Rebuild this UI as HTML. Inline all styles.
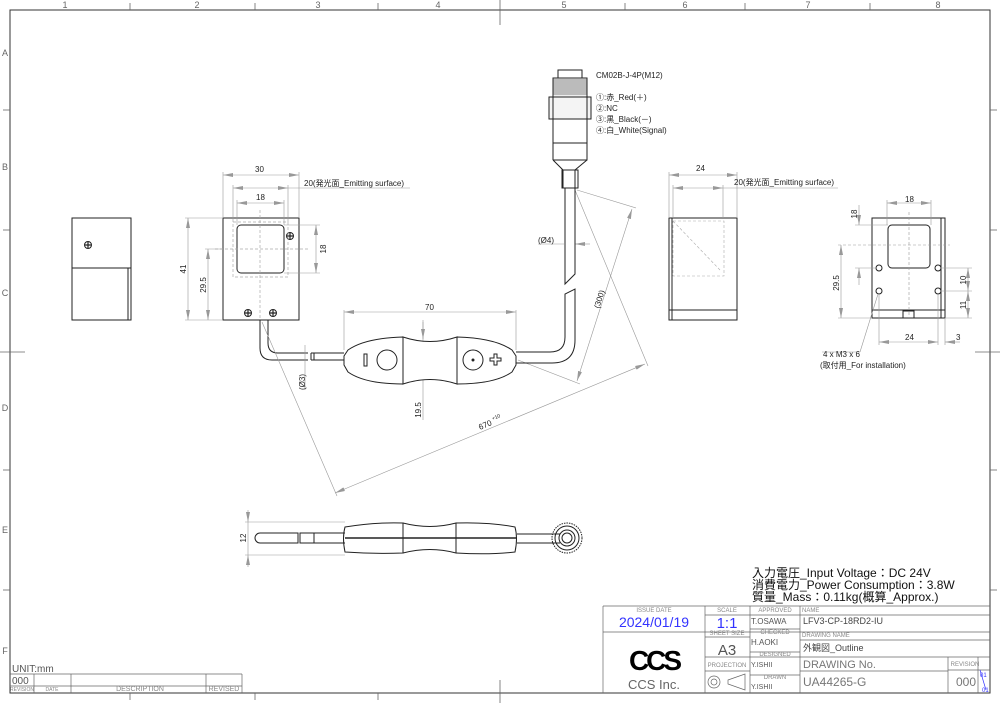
<!DOCTYPE html>
<html><head><meta charset="utf-8"><style>
html,body{margin:0;padding:0;background:#fff;}
svg{display:block;font-family:"Liberation Sans","Noto Sans CJK JP",sans-serif;}
</style></head><body>
<svg width="1000" height="703" viewBox="0 0 1000 703" xmlns="http://www.w3.org/2000/svg">
<defs>
<marker id="a" viewBox="0 0 10 4" refX="10" refY="2" markerWidth="10" markerHeight="4" orient="auto-start-reverse" markerUnits="userSpaceOnUse"><path d="M0,0L10,2L0,4z" fill="#999"/></marker>
<g id="scr"><circle r="3.5" fill="#fff" stroke="#222"/><path d="M-3,0H3M0,-3V3" stroke="#222" stroke-width="1.2"/></g>
</defs>
<g fill="none" stroke="#333" stroke-width="1">
<rect x="10" y="10" width="980" height="683"/>
</g>
<g stroke="#666" stroke-width="0.8">
<line x1="130" y1="3" x2="130" y2="10"/><line x1="255" y1="3" x2="255" y2="10"/><line x1="378" y1="3" x2="378" y2="10"/><line x1="500" y1="0" x2="500" y2="25"/><line x1="625" y1="3" x2="625" y2="10"/><line x1="745" y1="3" x2="745" y2="10"/><line x1="870" y1="3" x2="870" y2="10"/>
<line x1="130" y1="693" x2="130" y2="700"/><line x1="255" y1="693" x2="255" y2="700"/><line x1="378" y1="693" x2="378" y2="700"/><line x1="500" y1="680" x2="500" y2="703"/>
<line x1="3" y1="110" x2="10" y2="110"/><line x1="3" y1="230" x2="10" y2="230"/><line x1="0" y1="352" x2="25" y2="352"/><line x1="3" y1="470" x2="10" y2="470"/><line x1="3" y1="590" x2="10" y2="590"/>
<line x1="990" y1="110" x2="997" y2="110"/><line x1="990" y1="230" x2="997" y2="230"/><line x1="975" y1="352" x2="1000" y2="352"/><line x1="990" y1="470" x2="997" y2="470"/><line x1="990" y1="590" x2="997" y2="590"/>
</g>
<g font-size="9" fill="#666" text-anchor="middle">
<text x="65" y="8">1</text><text x="197" y="8">2</text><text x="318" y="8">3</text><text x="438" y="8">4</text><text x="564" y="8">5</text><text x="685" y="8">6</text><text x="808" y="8">7</text><text x="938" y="8">8</text>
<text x="5" y="56">A</text><text x="5" y="170">B</text><text x="5" y="296">C</text><text x="5" y="411">D</text><text x="5" y="533">E</text><text x="5" y="654">F</text>
</g>

<g fill="none" stroke="#222" stroke-width="1">
<rect x="72" y="218" width="59" height="102"/>
<line x1="72" y1="268" x2="131" y2="268"/>
<line x1="128" y1="268" x2="128" y2="320"/>
</g>
<use href="#scr" x="88" y="245"/>

<g fill="none" stroke="#222" stroke-width="1">
<rect x="223" y="218" width="76" height="102"/>
<rect x="237" y="225" width="47" height="48" rx="4"/>
<path d="M260,320 V348 Q260,360 272,360 H308 M268,320 V343 Q268,353 278,353 H308"/>
<path d="M311,353 H344 M311,360 H344 M311,353 V360 M314,353 V360"/>
</g>
<use href="#scr" x="290" y="236"/><use href="#scr" x="248" y="313"/><use href="#scr" x="273" y="313"/>
<g stroke="#aaa" stroke-width="0.7" fill="none" stroke-dasharray="3,2">
<rect x="233" y="222" width="55" height="55"/>
<line x1="260" y1="210" x2="260" y2="320"/><line x1="215" y1="249" x2="310" y2="249"/>
</g>
<g stroke="#999" stroke-width="0.6" fill="none">
<line x1="223" y1="172" x2="223" y2="218"/><line x1="299" y1="172" x2="299" y2="218"/>
<line x1="223" y1="175" x2="299" y2="175" marker-start="url(#a)" marker-end="url(#a)"/>
<line x1="233" y1="185" x2="233" y2="222"/><line x1="288" y1="185" x2="288" y2="222"/>
<line x1="233" y1="188" x2="288" y2="188" marker-start="url(#a)" marker-end="url(#a)"/>
<line x1="288" y1="188" x2="410" y2="188"/>
<line x1="237" y1="203" x2="284" y2="203" marker-start="url(#a)" marker-end="url(#a)"/>
<line x1="237" y1="200" x2="237" y2="225"/><line x1="284" y1="200" x2="284" y2="225"/>
<line x1="284" y1="225" x2="320" y2="225"/><line x1="284" y1="273" x2="320" y2="273"/>
<line x1="316" y1="225" x2="316" y2="273" marker-start="url(#a)" marker-end="url(#a)"/>
<line x1="185" y1="218" x2="223" y2="218"/><line x1="185" y1="320" x2="223" y2="320"/>
<line x1="188" y1="218" x2="188" y2="320" marker-start="url(#a)" marker-end="url(#a)"/>
<line x1="205" y1="249" x2="223" y2="249"/>
<line x1="208" y1="249" x2="208" y2="320" marker-start="url(#a)" marker-end="url(#a)"/>
<line x1="305" y1="345" x2="305" y2="390"/>
<line x1="344" y1="310" x2="344" y2="350"/><line x1="516" y1="310" x2="516" y2="350"/>
<line x1="344" y1="312" x2="516" y2="312" marker-start="url(#a)" marker-end="url(#a)"/>
<line x1="423" y1="320" x2="423" y2="420"/>
<line x1="423" y1="322" x2="423" y2="339" marker-end="url(#a)"/>
<line x1="262" y1="322" x2="337" y2="496"/>
<line x1="575" y1="190" x2="648" y2="366"/>
<line x1="335" y1="493" x2="645" y2="364" marker-start="url(#a)" marker-end="url(#a)"/>
<line x1="577" y1="190" x2="636" y2="208"/>
<line x1="518" y1="360" x2="580" y2="384"/>
<line x1="632" y1="209" x2="577" y2="381" marker-start="url(#a)" marker-end="url(#a)"/>
<line x1="538" y1="244" x2="564" y2="244"/><line x1="575" y1="244" x2="590" y2="244" marker-start="url(#a)"/>
</g>
<g font-size="8" fill="#222">
<text x="255" y="172">30</text><text x="304" y="186">20(発光面_Emitting surface)</text>
<text x="256" y="200">18</text>
<text transform="translate(326,249) rotate(-90)" text-anchor="middle">18</text>
<text transform="translate(186,269) rotate(-90)" text-anchor="middle">41</text>
<text transform="translate(206,285) rotate(-90)" text-anchor="middle">29.5</text>
<text x="425" y="310">70</text>
<text transform="translate(421,410) rotate(-90)" text-anchor="middle">19.5</text>
<text transform="translate(480,430) rotate(-23)">670 <tspan font-size="5" dy="-4">+10</tspan></text>
<text transform="translate(602,300) rotate(-72)" text-anchor="middle">(300)</text>
<text transform="translate(305,382) rotate(-90)" text-anchor="middle">(Ø3)</text>
<text x="538" y="243">(Ø4)</text>
<text x="596" y="78">CM02B-J-4P(M12)</text>
<text x="596" y="100">①:赤_Red(＋)</text>
<text x="596" y="111">②:NC</text>
<text x="596" y="122">③:黒_Black(－)</text>
<text x="596" y="133">④:白_White(Signal)</text>
</g>

<g fill="#fff" stroke="#222" stroke-width="1">
<path d="M403,337 Q365,338 348,350 L344,356 L344,365 L348,372 Q365,384 403,384 Z"/>
<path d="M403,337 Q430,346 457,337 L457,384 Q430,375 403,384 Z"/>
<path d="M457,337 Q495,338 512,350 L516,356 L516,365 L512,372 Q495,384 457,384 Z"/>
<circle cx="387" cy="360" r="10"/><circle cx="473" cy="360" r="10"/>
<rect x="364" y="354" width="3" height="12" fill="none"/>
<circle cx="473" cy="360" r="1" fill="#222"/>
<path d="M494,354 h3 v4 h4 v3 h-4 v4 h-3 v-4 h-4 v-3 h4z" fill="none"/>
</g>
<g fill="none" stroke="#222" stroke-width="1">
<path d="M516,352 H550 Q565,352 565,337 V294 L575,289 V340 Q575,363 552,363 H516"/>
<path d="M565,188 V284 L575,274 V188"/>
<rect x="558" y="70" width="24" height="8"/>
<rect x="553" y="78" width="34" height="19" fill="#eee"/>
<path d="M553,80 H587 M553,82 H587 M553,84 H587 M553,86 H587 M553,88 H587 M553,90 H587 M553,92 H587 M553,94 H587" stroke-width="0.5"/>
<rect x="549" y="97" width="42" height="22" fill="#f4f4f4"/>
<rect x="553" y="97" width="34" height="22"/>
<path d="M553,119 V143 H587 V119 M553,143 L553,160 M587,143 V160 H553 M553,160 L563,170 V188 H575 V170 L587,160"/>
<rect x="562" y="170" width="16" height="18"/>
</g>

<g fill="none" stroke="#222" stroke-width="1">
<rect x="669" y="218" width="68" height="102"/>
<line x1="669" y1="310" x2="737" y2="310"/>
<line x1="672" y1="218" x2="672" y2="320"/>
</g>
<g stroke="#aaa" stroke-width="0.6" fill="none" stroke-dasharray="3,2">
<rect x="673" y="221" width="51" height="55"/><line x1="673" y1="221" x2="720" y2="270"/>
</g>
<g stroke="#999" stroke-width="0.6" fill="none">
<line x1="669" y1="172" x2="669" y2="218"/><line x1="737" y1="172" x2="737" y2="218"/>
<line x1="669" y1="175" x2="737" y2="175" marker-start="url(#a)" marker-end="url(#a)"/>
<line x1="673" y1="185" x2="673" y2="218"/><line x1="723" y1="185" x2="723" y2="218"/>
<line x1="673" y1="188" x2="723" y2="188" marker-start="url(#a)" marker-end="url(#a)"/>
<line x1="723" y1="188" x2="838" y2="188"/>
</g>
<g font-size="8" fill="#222"><text x="696" y="171">24</text><text x="734" y="185">20(発光面_Emitting surface)</text></g>

<g fill="none" stroke="#222" stroke-width="1">
<rect x="872" y="218" width="73" height="100"/>
<line x1="941" y1="218" x2="941" y2="318"/>
<line x1="872" y1="310" x2="945" y2="310"/>
<rect x="888" y="225" width="42" height="43" rx="4"/>
<circle cx="879" cy="268" r="3"/><circle cx="938" cy="268" r="3"/><circle cx="879" cy="291" r="3"/><circle cx="938" cy="291" r="3"/>
<rect x="903" y="311" width="11" height="7"/>
</g>
<g stroke="#999" stroke-width="0.6" fill="none">
<line x1="887" y1="200" x2="887" y2="225"/><line x1="931" y1="200" x2="931" y2="225"/>
<line x1="887" y1="203" x2="931" y2="203" marker-start="url(#a)" marker-end="url(#a)"/>
<line x1="855" y1="225" x2="888" y2="225"/><line x1="855" y1="268" x2="875" y2="268"/>
<line x1="859" y1="205" x2="859" y2="225" marker-end="url(#a)"/><line x1="859" y1="268" x2="859" y2="285" marker-start="url(#a)"/>
<line x1="841" y1="245" x2="841" y2="318" marker-start="url(#a)" marker-end="url(#a)"/>
<line x1="838" y1="318" x2="872" y2="318"/>
<line x1="942" y1="268" x2="972" y2="268"/><line x1="942" y1="291" x2="972" y2="291"/><line x1="945" y1="318" x2="972" y2="318"/>
<line x1="968" y1="268" x2="968" y2="291" marker-start="url(#a)" marker-end="url(#a)"/>
<line x1="968" y1="291" x2="968" y2="318" marker-start="url(#a)" marker-end="url(#a)"/>
<line x1="879" y1="295" x2="879" y2="345"/><line x1="938" y1="295" x2="938" y2="345"/><line x1="945" y1="318" x2="945" y2="345"/>
<line x1="879" y1="342" x2="938" y2="342" marker-start="url(#a)" marker-end="url(#a)"/>
<line x1="945" y1="342" x2="960" y2="342" marker-start="url(#a)"/>
<line x1="878" y1="294" x2="860" y2="352"/><line x1="822" y1="352" x2="860" y2="352"/>
<line x1="909" y1="212" x2="909" y2="318" stroke-dasharray="3,2"/>
<line x1="838" y1="245" x2="950" y2="245" stroke-dasharray="3,2"/>
</g>
<g font-size="8" fill="#222">
<text x="905" y="202">18</text>
<text transform="translate(857,214) rotate(-90)" text-anchor="middle">18</text>
<text transform="translate(839,283) rotate(-90)" text-anchor="middle">29.5</text>
<text transform="translate(966,280) rotate(-90)" text-anchor="middle">10</text>
<text transform="translate(966,305) rotate(-90)" text-anchor="middle">11</text>
<text x="905" y="340">24</text><text x="956" y="340">3</text>
<text x="823" y="357">4 x M3 x 6</text><text x="820" y="368">(取付用_For installation)</text>
</g>

<g fill="none" stroke="#222" stroke-width="1">
<path d="M260,533 H298 V543 H260 A5,5 0 0 1 260,533 Z"/>
<rect x="300" y="533" width="14" height="10"/>
<path d="M314,533 H345 M314,543 H345"/>
<path d="M345,527 Q375,522 403,523 L403,553 Q375,554 345,552 Q342,538 345,527 Z"/>
<path d="M403,523 Q430,530 456,523 L456,553 Q430,546 403,553"/>
<path d="M456,523 Q490,522 515,527 Q518,538 515,552 Q490,555 456,553"/>
<line x1="345" y1="538" x2="517" y2="538" stroke-width="1.5"/>
<path d="M517,534 H560 M517,543 H560"/>
<circle cx="567" cy="538" r="15" stroke-dasharray="1.5,1"/><circle cx="567" cy="538" r="12"/><circle cx="567" cy="538" r="8"/><circle cx="567" cy="538" r="5"/>
</g>
<g stroke="#999" stroke-width="0.6" fill="none">
<line x1="245" y1="522" x2="345" y2="522"/><line x1="245" y1="555" x2="345" y2="555"/>
<line x1="248" y1="510" x2="248" y2="522" marker-end="url(#a)"/><line x1="248" y1="555" x2="248" y2="567" marker-start="url(#a)"/>
<line x1="248" y1="522" x2="248" y2="555"/>
</g>
<text transform="translate(246,538) rotate(-90)" font-size="8" fill="#222" text-anchor="middle">12</text>

<g font-size="12" fill="#111">
<text x="752" y="577">入力電圧_Input Voltage：DC 24V</text>
<text x="752" y="589">消費電力_Power Consumption：3.8W</text>
<text x="752" y="601">質量_Mass：0.11kg(概算_Approx.)</text>
</g>

<g fill="none" stroke="#666" stroke-width="0.7">
<line x1="603" y1="606" x2="990" y2="606"/>
<line x1="603" y1="606" x2="603" y2="693"/>
<line x1="603" y1="632" x2="705" y2="632"/>
<line x1="705" y1="606" x2="705" y2="693"/>
<line x1="750" y1="606" x2="750" y2="693"/>
<line x1="800" y1="606" x2="800" y2="693"/>
<line x1="705" y1="615" x2="800" y2="615"/>
<line x1="705" y1="632" x2="990" y2="632"/>
<line x1="705" y1="637" x2="750" y2="637"/>
<line x1="750" y1="629" x2="800" y2="629"/>
<line x1="800" y1="615" x2="990" y2="615"/>
<line x1="800" y1="640" x2="990" y2="640"/>
<line x1="705" y1="657" x2="990" y2="657"/>
<line x1="750" y1="652" x2="800" y2="652"/>
<line x1="705" y1="671" x2="750" y2="671"/>
<line x1="800" y1="671" x2="948" y2="671"/>
<line x1="750" y1="675" x2="800" y2="675"/>
<line x1="948" y1="657" x2="948" y2="693"/>
<line x1="978" y1="657" x2="978" y2="693"/>
<line x1="948" y1="670" x2="990" y2="670"/>
<line x1="980" y1="670" x2="986" y2="690" stroke="#33f"/>
<circle cx="714" cy="682" r="6"/><circle cx="714" cy="682" r="3"/>
<path d="M728,680 L745,674 V690 L728,684 Z"/>
<line x1="10" y1="674" x2="242" y2="674"/>
<line x1="10" y1="686" x2="242" y2="686"/>
<line x1="34" y1="674" x2="34" y2="693"/><line x1="71" y1="674" x2="71" y2="693"/><line x1="206" y1="674" x2="206" y2="693"/><line x1="242" y1="674" x2="242" y2="693"/>
</g>
<g fill="#888" font-size="6" text-anchor="middle">
<text x="654" y="612">ISSUE DATE</text><text x="727" y="612">SCALE</text><text x="775" y="612">APPROVED</text>
<text x="727" y="635">SHEET  SIZE</text><text x="775" y="634">CHECKED</text><text x="775" y="656">DESIGNED</text>
<text x="727" y="667">PROJECTION</text><text x="775" y="679">DRAWN</text>
<text x="965" y="666">REVISION</text>
<text x="22" y="691" font-size="5">REVISION</text><text x="52" y="691" font-size="5">DATE</text><text x="140" y="691" font-size="7">DESCRIPTION</text><text x="224" y="691" font-size="7">REVISED</text>
</g>
<g fill="#888" font-size="6"><text x="802" y="612">NAME</text><text x="802" y="637">DRAWING  NAME</text></g>
<g fill="#222">
<text x="654" y="627" font-size="14" fill="#33f" text-anchor="middle">2024/01/19</text>
<text x="727" y="628" font-size="15" fill="#33f" text-anchor="middle">1:1</text>
<text x="727" y="655" font-size="15" fill="#555" text-anchor="middle">A3</text>
<text x="751" y="624" font-size="8" fill="#555">T.OSAWA</text>
<text x="751" y="645" font-size="8" fill="#555">H.AOKI</text>
<text x="751" y="667" font-size="7" fill="#555">Y.ISHII</text>
<text x="751" y="689" font-size="7" fill="#555">Y.ISHII</text>
<text x="803" y="624" font-size="9" fill="#444">LFV3-CP-18RD2-IU</text>
<text x="803" y="651" font-size="9" fill="#444">外観図_Outline</text>
<text x="803" y="668" font-size="11" fill="#777">DRAWING No.</text>
<text x="803" y="686" font-size="12" fill="#777">UA44265-G</text>
<text x="956" y="686" font-size="12" fill="#777">000</text>
<text x="980" y="677" font-size="6" fill="#33f">01</text><text x="982" y="692" font-size="6" fill="#33f">01</text>
<text x="654" y="689" font-size="13" fill="#666" text-anchor="middle">CCS Inc.</text>
<text x="654" y="670" font-size="28" font-weight="bold" fill="#000" text-anchor="middle" letter-spacing="-3">CCS</text>
<text x="12" y="672" font-size="10" fill="#555">UNIT:mm</text>
<text x="12" y="684" font-size="10" fill="#555">000</text>
</g>
</svg>
</body></html>
